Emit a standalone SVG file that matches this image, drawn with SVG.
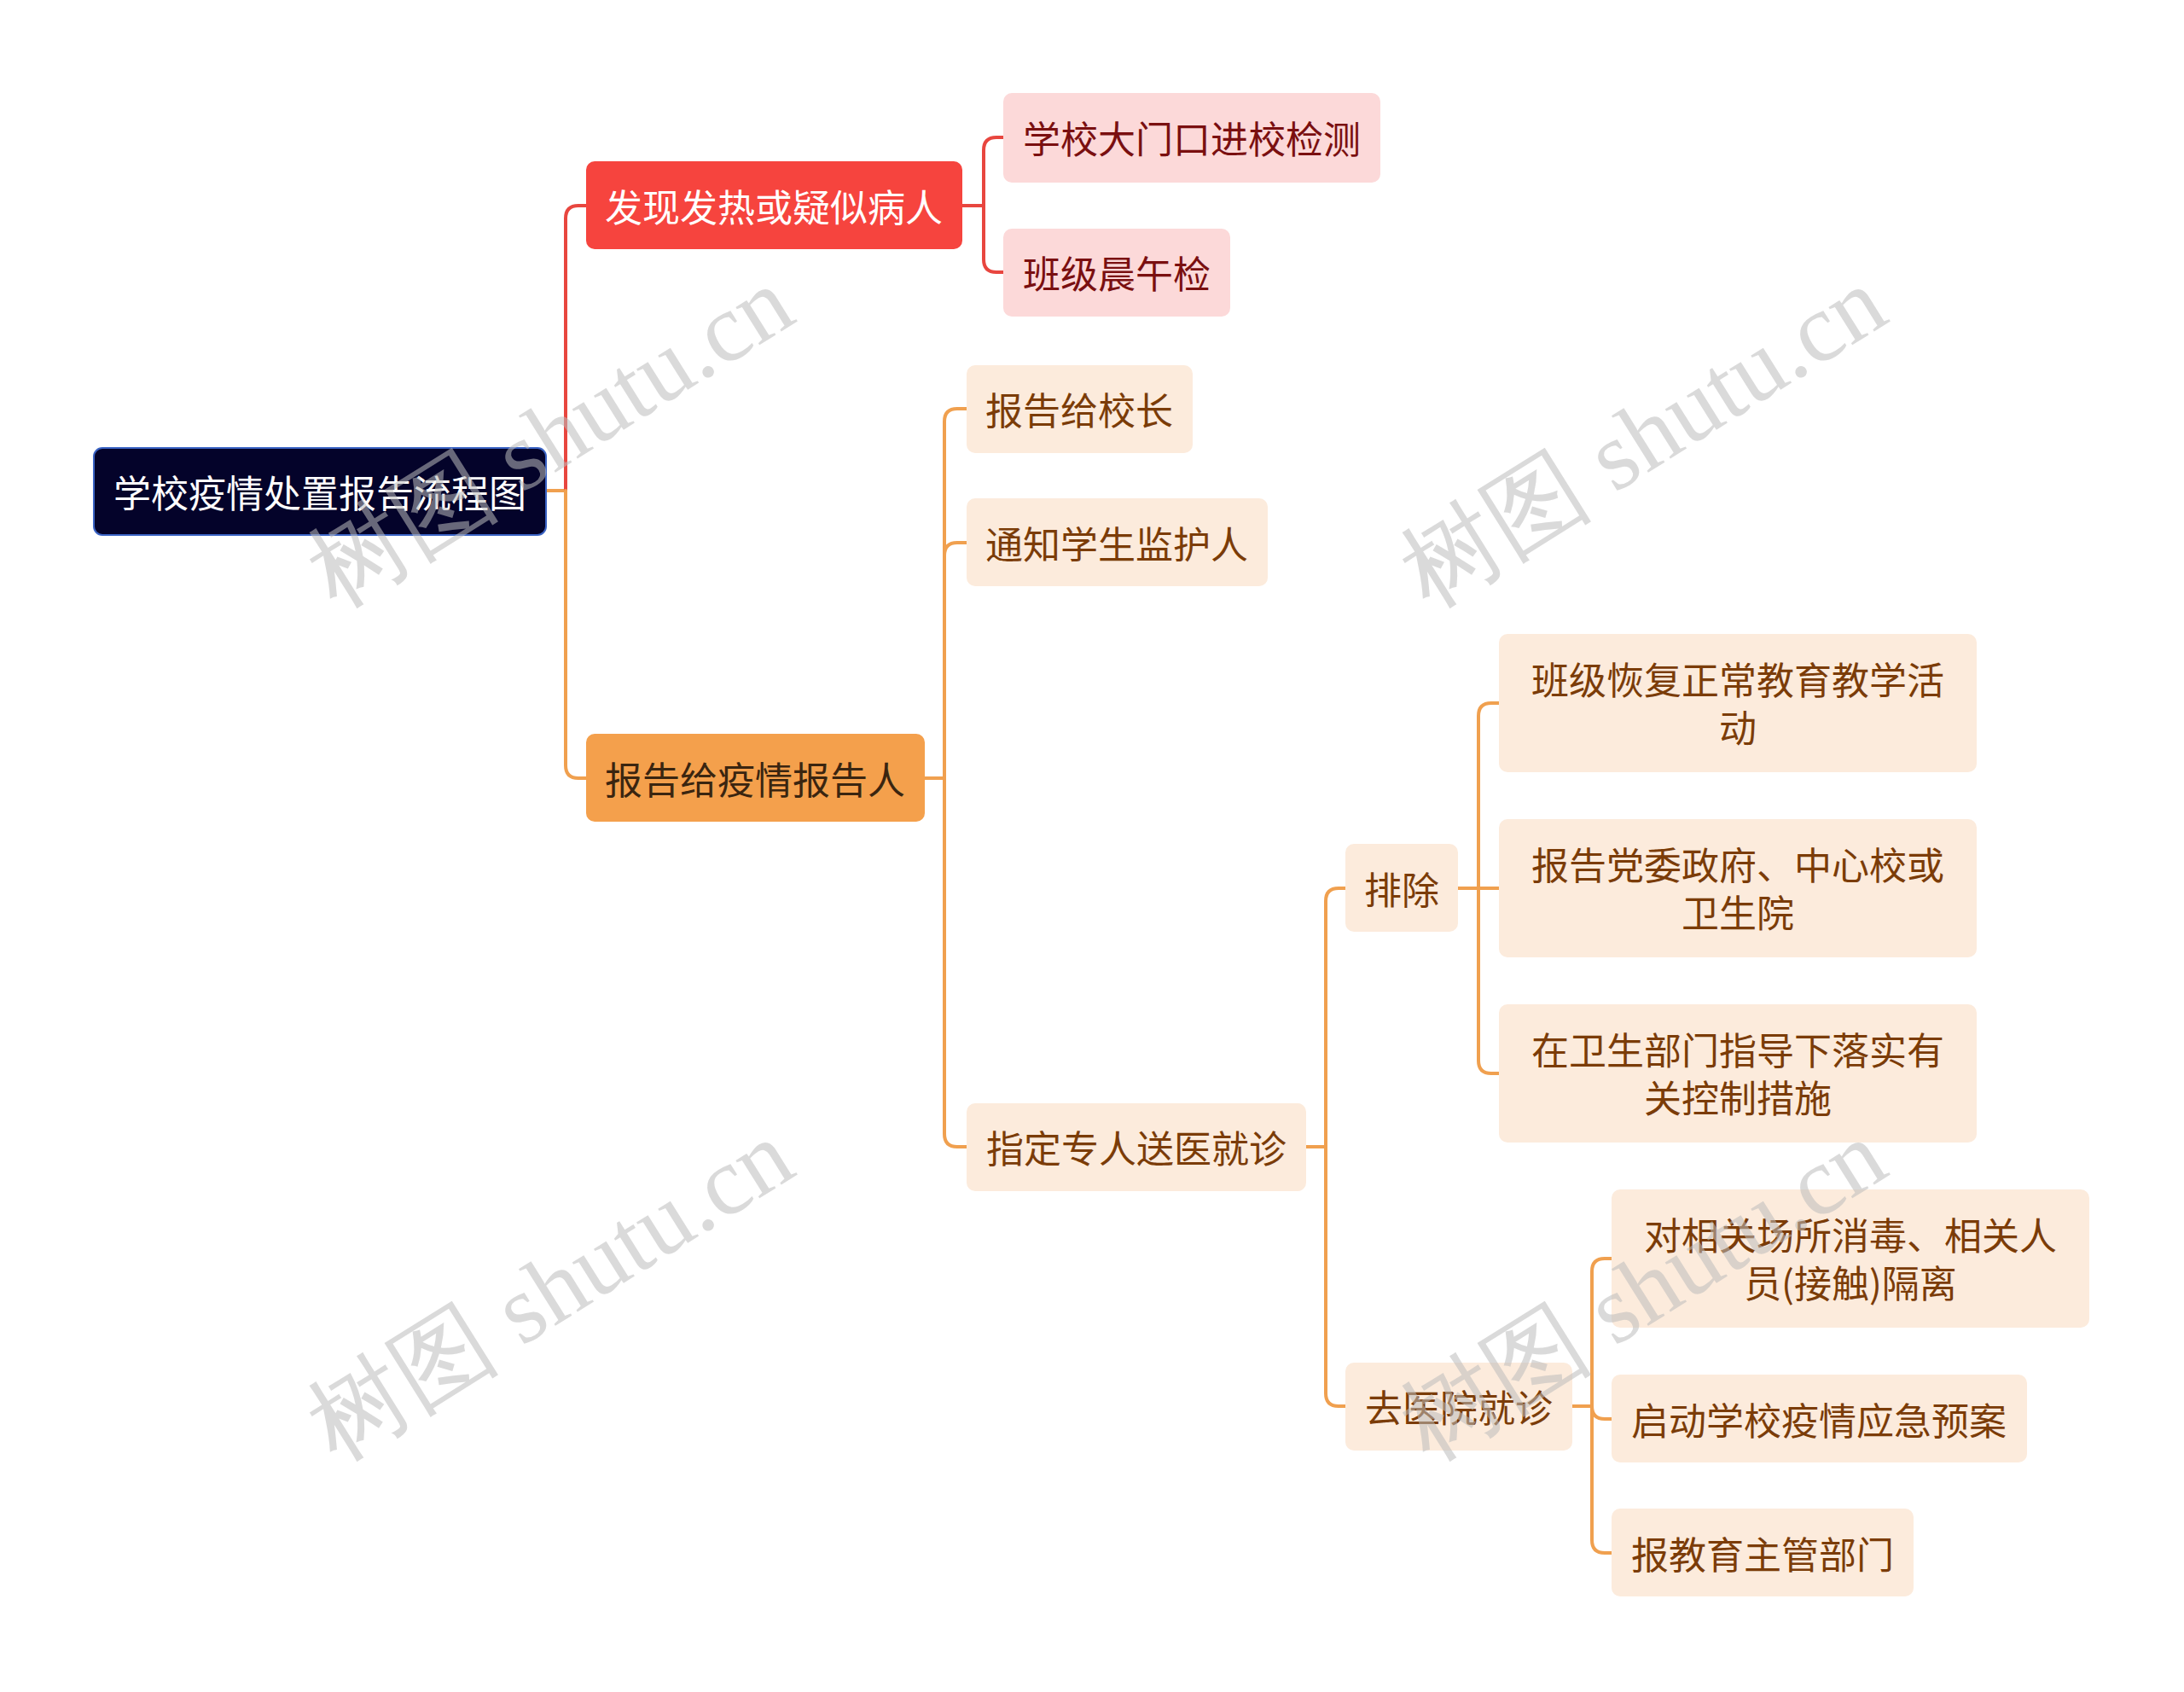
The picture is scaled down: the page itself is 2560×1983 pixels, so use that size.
<svg xmlns="http://www.w3.org/2000/svg" width="2560" height="1983" viewBox="0 0 2560 1983">
<style>
text{font-family:"Noto Sans CJK SC","Noto Sans",sans-serif;font-size:44px;text-anchor:middle;dominant-baseline:central}
.c{fill:none;stroke-width:4;stroke-linecap:round}
.r{stroke:#e8463f}
.o{stroke:#f0a04f}
.l3{fill:#fcebdc}
.t3{fill:#7b3c08}
.l3r{fill:#fcd9d9}
.t3r{fill:#7a0f10}
.wm{font-family:"Liberation Serif",serif;font-size:114px;fill:#bcbcbc;fill-opacity:0.55;text-anchor:middle;dominant-baseline:auto}
</style>
<rect width="2560" height="1983" fill="#ffffff"/>
<g id="connectors">
<path class="c o" d="M640,575 H663"/>
<path class="c r" d="M663,575 V256 Q663,241 678,241 H687"/>
<path class="c o" d="M663,575 V897 Q663,912 678,912 H687"/>
<path class="c r" d="M1128,241 H1153"/>
<path class="c r" d="M1153,241 V176 Q1153,161 1168,161 H1176"/>
<path class="c r" d="M1153,241 V304 Q1153,319 1168,319 H1176"/>
<path class="c o" d="M1084,912 H1107"/>
<path class="c o" d="M1107,912 V494 Q1107,479 1122,479 H1133"/>
<path class="c o" d="M1107,912 V651 Q1107,636 1122,636 H1133"/>
<path class="c o" d="M1107,912 V1329 Q1107,1344 1122,1344 H1133"/>
<path class="c o" d="M1531,1344 H1554"/>
<path class="c o" d="M1554,1344 V1056 Q1554,1041 1569,1041 H1577"/>
<path class="c o" d="M1554,1344 V1633 Q1554,1648 1569,1648 H1577"/>
<path class="c o" d="M1709,1041 H1757"/>
<path class="c o" d="M1733,1041 V839 Q1733,824 1748,824 H1757"/>
<path class="c o" d="M1733,1041 V1243 Q1733,1258 1748,1258 H1757"/>
<path class="c o" d="M1843,1648 H1866"/>
<path class="c o" d="M1866,1648 V1490 Q1866,1475 1881,1475 H1889"/>
<path class="c o" d="M1866,1648 Q1866,1663 1881,1663 H1889"/>
<path class="c o" d="M1866,1648 V1805 Q1866,1820 1881,1820 H1889"/>
</g>
<g id="root">
<rect x="110" y="525" width="530" height="102" rx="10" fill="#04032a" stroke="#3a63c4" stroke-width="2"/>
<text x="375" y="576" fill="#ffffff" font-size="40">学校疫情处置报告流程图</text>
</g>
<g id="n1">
<rect x="687" y="189" width="441" height="103" rx="10" fill="#f6443e"/>
<text x="907" y="241" fill="#ffffff">发现发热或疑似病人</text>
</g>
<g id="n1a">
<rect class="l3r" x="1176" y="109" width="442" height="105" rx="10"/>
<text class="t3r" x="1397" y="161">学校大门口进校检测</text>
</g>
<g id="n1b">
<rect class="l3r" x="1176" y="268" width="266" height="103" rx="10"/>
<text class="t3r" x="1309" y="319">班级晨午检</text>
</g>
<g id="n2">
<rect x="687" y="860" width="397" height="103" rx="10" fill="#f4a04c"/>
<text x="885" y="912" fill="#3a2510">报告给疫情报告人</text>
</g>
<g id="n2a">
<rect class="l3" x="1133" y="428" width="265" height="103" rx="10"/>
<text class="t3" x="1265" y="479">报告给校长</text>
</g>
<g id="n2b">
<rect class="l3" x="1133" y="584" width="353" height="103" rx="10"/>
<text class="t3" x="1309" y="636">通知学生监护人</text>
</g>
<g id="n2c">
<rect class="l3" x="1133" y="1293" width="398" height="103" rx="10"/>
<text class="t3" x="1332" y="1344">指定专人送医就诊</text>
</g>
<g id="n3a">
<rect class="l3" x="1577" y="989" width="132" height="103" rx="10"/>
<text class="t3" x="1643" y="1041">排除</text>
</g>
<g id="n3a1">
<rect class="l3" x="1757" y="743" width="560" height="162" rx="10"/>
<text class="t3" x="2037" y="795">班级恢复正常教育教学活<tspan x="2037" dy="56">动</tspan></text>
</g>
<g id="n3a2">
<rect class="l3" x="1757" y="960" width="560" height="162" rx="10"/>
<text class="t3" x="2037" y="1012">报告党委政府、中心校或<tspan x="2037" dy="56">卫生院</tspan></text>
</g>
<g id="n3a3">
<rect class="l3" x="1757" y="1177" width="560" height="162" rx="10"/>
<text class="t3" x="2037" y="1229">在卫生部门指导下落实有<tspan x="2037" dy="56">关控制措施</tspan></text>
</g>
<g id="n3b">
<rect class="l3" x="1577" y="1597" width="266" height="103" rx="10"/>
<text class="t3" x="1710" y="1648">去医院就诊</text>
</g>
<g id="n3b1">
<rect class="l3" x="1889" y="1394" width="560" height="162" rx="10"/>
<text class="t3" x="2169" y="1446">对相关场所消毒、相关人<tspan x="2169" dy="56">员(接触)隔离</tspan></text>
</g>
<g id="n3b2">
<rect class="l3" x="1889" y="1611" width="487" height="103" rx="10"/>
<text class="t3" x="2132" y="1663">启动学校疫情应急预案</text>
</g>
<g id="n3b3">
<rect class="l3" x="1889" y="1768" width="354" height="103" rx="10"/>
<text class="t3" x="2066" y="1820">报教育主管部门</text>
</g>
<g id="watermarks">
<text class="wm" transform="translate(665,545) rotate(-32)">树图 shutu.cn</text>
<text class="wm" transform="translate(1946,545) rotate(-32)">树图 shutu.cn</text>
<text class="wm" transform="translate(665,1545) rotate(-32)">树图 shutu.cn</text>
<text class="wm" transform="translate(1946,1545) rotate(-32)">树图 shutu.cn</text>
</g>
</svg>
